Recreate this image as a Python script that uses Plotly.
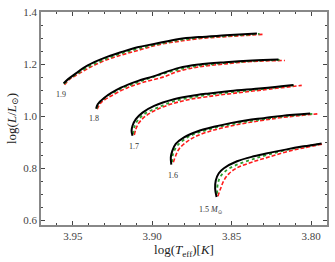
import plotly.graph_objects as go

# ---- data: evolutionary tracks, log(Teff) and log(L/Lsun) ----
masses = ["1.9", "1.8", "1.7", "1.6", "1.5"]

black_x = {
    "1.9": [3.9558, 3.9531, 3.9489, 3.9406, 3.9301, 3.9197, 3.9093, 3.8988, 3.8831, 3.8706, 3.8539, 3.8341],
    "1.8": [3.9353, 3.9343, 3.9301, 3.9197, 3.9093, 3.8988, 3.8832, 3.8706, 3.8539, 3.8372, 3.8205],
    "1.7": [3.9124, 3.9130, 3.9124, 3.9103, 3.9061, 3.8988, 3.8863, 3.8758, 3.8654, 3.8508, 3.8310, 3.8111],
    "1.6": [3.8880, 3.8883, 3.8873, 3.8852, 3.8800, 3.8717, 3.8612, 3.8508, 3.8404, 3.8299, 3.8184, 3.8006],
    "1.5": [3.8595, 3.8604, 3.8600, 3.8581, 3.8549, 3.8466, 3.8361, 3.8257, 3.8153, 3.8048, 3.7934],
}
black_y = {
    "1.9": [1.1260, 1.1412, 1.1603, 1.1947, 1.2237, 1.2454, 1.2645, 1.2771, 1.2962, 1.3038, 1.3103, 1.3179],
    "1.8": [1.0290, 1.0458, 1.0710, 1.1092, 1.1347, 1.1538, 1.1855, 1.1985, 1.2073, 1.2137, 1.2176],
    "1.7": [0.9248, 0.9439, 0.9630, 0.9885, 1.0137, 1.0393, 1.0649, 1.0775, 1.0863, 1.0966, 1.1069, 1.1195],
    "1.6": [0.8141, 0.8420, 0.8676, 0.8931, 0.9183, 0.9412, 0.9592, 0.9733, 0.9847, 0.9924, 1.0011, 1.0099],
    "1.5": [0.6893, 0.7214, 0.7531, 0.7809, 0.8000, 0.8267, 0.8458, 0.8599, 0.8725, 0.8840, 0.8954],
}

green_x = {
    "1.9": [3.9555, 3.9527, 3.9480, 3.9395, 3.9289, 3.9189, 3.9082, 3.8969, 3.8832, 3.8706, 3.8539, 3.8324],
    "1.8": [3.9350, 3.9336, 3.9289, 3.9182, 3.9076, 3.8957, 3.8832, 3.8706, 3.8539, 3.8372, 3.8186],
    "1.7": [3.9120, 3.9113, 3.9093, 3.9051, 3.8967, 3.8863, 3.8758, 3.8654, 3.8508, 3.8310, 3.8093],
    "1.6": [3.8875, 3.8869, 3.8842, 3.8779, 3.8717, 3.8612, 3.8508, 3.8404, 3.8299, 3.8184, 3.7992],
    "1.5": [3.8591, 3.8587, 3.8566, 3.8508, 3.8361, 3.8153, 3.7944],
}
green_y = {
    "1.9": [1.1240, 1.1412, 1.1603, 1.1920, 1.2206, 1.2416, 1.2599, 1.2760, 1.2920, 1.3008, 1.3076, 1.3160],
    "1.8": [1.0290, 1.0496, 1.0748, 1.1092, 1.1328, 1.1576, 1.1794, 1.1939, 1.2042, 1.2118, 1.2160],
    "1.7": [0.9313, 0.9565, 0.9821, 1.0076, 1.0328, 1.0573, 1.0710, 1.0813, 1.0916, 1.1042, 1.1195],
    "1.6": [0.8229, 0.8550, 0.8866, 0.9183, 0.9351, 0.9542, 0.9679, 0.9794, 0.9885, 0.9985, 1.0088],
    "1.5": [0.7023, 0.7405, 0.7721, 0.8015, 0.8359, 0.8702, 0.8931],
}

red_x = {
    "1.9": [3.9552, 3.9521, 3.9469, 3.9385, 3.9281, 3.9176, 3.9071, 3.8957, 3.8832, 3.8706, 3.8539, 3.8305],
    "1.8": [3.9347, 3.9322, 3.9259, 3.9155, 3.9051, 3.8926, 3.8832, 3.8706, 3.8539, 3.8372, 3.8165],
    "1.7": [3.9113, 3.9103, 3.9082, 3.9040, 3.8967, 3.8863, 3.8758, 3.8654, 3.8508, 3.8310, 3.8059],
    "1.6": [3.8867, 3.8852, 3.8831, 3.8779, 3.8717, 3.8612, 3.8508, 3.8404, 3.8299, 3.8184, 3.7961],
    "1.5": [3.8587, 3.8570, 3.8549, 3.8518, 3.8466, 3.8361, 3.8257, 3.8153, 3.8048, 3.7923],
}
red_y = {
    "1.9": [1.1206, 1.1412, 1.1603, 1.1893, 1.2176, 1.2378, 1.2557, 1.2748, 1.2874, 1.2977, 1.3053, 1.3141],
    "1.8": [1.0267, 1.0519, 1.0775, 1.1092, 1.1309, 1.1511, 1.1729, 1.1893, 1.2008, 1.2099, 1.2137],
    "1.7": [0.9275, 0.9504, 0.9756, 1.0011, 1.0267, 1.0496, 1.0649, 1.0748, 1.0863, 1.1004, 1.1183],
    "1.6": [0.8229, 0.8485, 0.8740, 0.9031, 0.9248, 0.9466, 0.9618, 0.9744, 0.9847, 0.9947, 1.0088],
    "1.5": [0.6920, 0.7214, 0.7531, 0.7786, 0.8015, 0.8256, 0.8447, 0.8637, 0.8779, 0.8931],
}

label_text = ["1.9", "1.8", "1.7", "1.6", "1.5 <i>M</i><sub>⊙</sub>"]
label_x = [3.9573, 3.9364, 3.9113, 3.8867, 3.8633]
label_y = [1.084, 0.992, 0.884, 0.772, 0.641]

x_ticks = [3.95, 3.90, 3.85, 3.80]
x_ticktext = ["3.95", "3.90", "3.85", "3.80"]
y_ticks = [0.6, 0.8, 1.0, 1.2, 1.4]
y_ticktext = ["0.6", "0.8", "1.0", "1.2", "1.4"]

FONT = "Liberation Serif, DejaVu Serif, serif"

fig = go.Figure()
for m in masses:
    fig.add_trace(go.Scatter(x=red_x[m], y=red_y[m], mode="lines",
                             line=dict(color="#ff1a1a", width=1.6, dash="4px,2px", shape="spline"),
                             showlegend=False, hoverinfo="skip"))
    fig.add_trace(go.Scatter(x=green_x[m], y=green_y[m], mode="lines",
                             line=dict(color="#2e9e2e", width=1.8, dash="dot", shape="spline"),
                             showlegend=False, hoverinfo="skip"))
    fig.add_trace(go.Scatter(x=black_x[m], y=black_y[m], mode="lines",
                             line=dict(color="black", width=2, shape="spline"),
                             showlegend=False, hoverinfo="skip"))

for t, xx, yy in zip(label_text, label_x, label_y):
    fig.add_annotation(x=xx, y=yy, text=t, showarrow=False,
                       font=dict(family=FONT, size=8, color="#333"))

axis_common = dict(showline=True, linecolor="#888", linewidth=1.5, mirror="allticks",
                   ticks="inside", ticklen=4, tickwidth=1, tickcolor="#444",
                   showgrid=False, zeroline=False,
                   tickfont=dict(family=FONT, size=11, color="#444"))

fig.update_xaxes(range=[3.970, 3.790], tickmode="array", tickvals=x_ticks, ticktext=x_ticktext,
                 minor=dict(dtick=0.01, ticks="inside", ticklen=2, tickcolor="#444"),
                 title=dict(text="log(<i>T</i><sub>eff</sub>)[<i>K</i>]", standoff=4,
                            font=dict(family=FONT, size=13, color="#222")),
                 **axis_common)
fig.update_yaxes(range=[0.582, 1.40], tickmode="array", tickvals=y_ticks, ticktext=y_ticktext,
                 minor=dict(dtick=0.05, ticks="inside", ticklen=2, tickcolor="#444"),
                 title=dict(text="log(<i>L</i>/<i>L</i><sub>⊙</sub>)", standoff=4,
                            font=dict(family=FONT, size=13, color="#222")),
                 **axis_common)

fig.update_layout(width=335, height=262, margin=dict(l=41, r=6, t=10, b=37),
                  paper_bgcolor="white", plot_bgcolor="white")

fig.write_html("out.html", config={"displayModeBar": False},
               post_script="document.body.style.margin='0';")
